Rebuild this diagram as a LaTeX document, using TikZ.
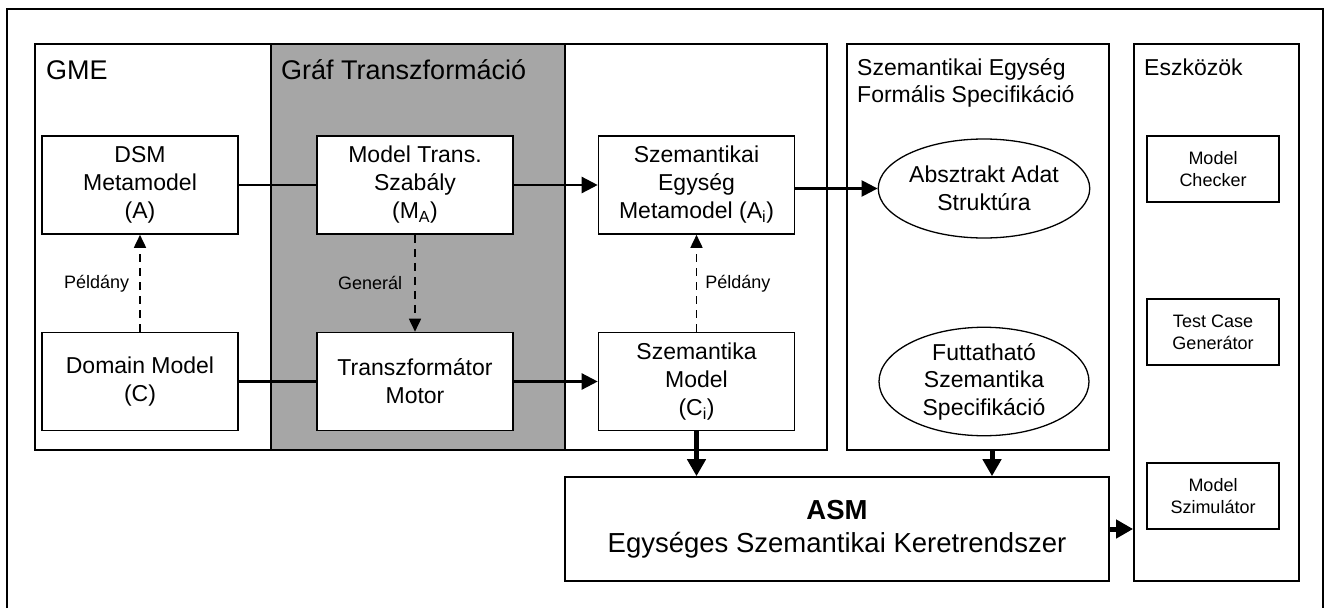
\documentclass[tikz,border=0pt]{standalone}
\usepackage{fontspec}
\setmainfont{Liberation Sans}
\usetikzlibrary{shapes.geometric,arrows.meta}
\definecolor{panelgray}{RGB}{166,166,166}
\tikzset{
  frame/.style={line width=1.5pt},
  panel/.style={draw, line width=1.8pt, rectangle, inner sep=0pt},
  box/.style={draw, line width=1.6pt, fill=white, rectangle, inner sep=0pt, align=center,
    font=\fontsize{23}{28}\selectfont, minimum width=196pt, minimum height=98pt},
  tool/.style={draw, line width=1.6pt, fill=white, rectangle, inner sep=0pt, align=center,
    font=\fontsize{18}{22}\selectfont, minimum width=132pt, minimum height=66pt},
  oval/.style={draw, line width=1.3pt, ellipse, inner sep=0pt, align=center,
    font=\fontsize{23}{27.5}\selectfont, minimum width=210pt, minimum height=99pt},
  bigtitle/.style={anchor=base west, inner sep=0pt, font=\fontsize{27}{32}\selectfont},
  subtitle/.style={anchor=base west, inner sep=0pt, font=\fontsize{23}{27}\selectfont},
  lbl/.style={inner sep=0pt, font=\fontsize{18}{22}\selectfont},
  conn/.style={line width=2.4pt},
  arr/.style={line width=2.4pt, -{Triangle[length=16pt,width=16pt]}},
  dasharr/.style={line width=1.7pt, dash pattern=on 8pt off 6pt, -{Triangle[length=13pt,width=12pt]}},
  thickarr/.style={line width=5pt, -{Triangle[length=17pt,width=18pt]}}
}
\begin{document}
\begin{tikzpicture}[x=1pt,y=-1pt]
\useasboundingbox (0,0) rectangle (1333,608);
% outer frame
\draw[frame] (7,608) -- (7,9) -- (1323,9) -- (1323,608);

% panels
\node[panel, minimum width=236pt, minimum height=406pt] (gme) at (153,247) {};
\node[panel, fill=panelgray, minimum width=294pt, minimum height=406pt] (graf) at (418,247) {};
\node[panel, minimum width=262pt, minimum height=406pt] (sem) at (696,247) {};
\node[panel, minimum width=262pt, minimum height=406pt] (spec) at (978,247) {};
\node[panel, minimum width=165pt, minimum height=537pt] (tools) at (1216.5,312.5) {};

% panel titles
\node[bigtitle] (tgme) at (46,79) {GME};
\node[bigtitle] (tgraf) at (281,79) {Gráf Transzformáció};
\node[subtitle] (tspec1) at (857,75) {Szemantikai Egység};
\node[subtitle] (tspec2) at (857,102) {Formális Specifikáció};
\node[subtitle] (ttools) at (1144,75) {Eszközök};

% boxes
\node[box] (dsm) at (140,185) {DSM\\Metamodel\\(A)};
\node[box] (dom) at (140,381.5) {Domain Model\\(C)};
\node[box] (mt) at (415,185) {Model Trans.\\Szabály\\(M\textsubscript{A})};
\node[box] (tm) at (415,381.5) {Transzformátor\\Motor};
\node[box] (sem1) at (696.5,185) {Szemantikai\\Egység\\Metamodel (A\textsubscript{i})};
\node[box] (sm) at (696.5,381.5) {Szemantika\\Model\\(C\textsubscript{i})};

% ellipses
\node[oval] (ads) at (984,188.5) {Absztrakt Adat\\Struktúra};
\node[oval] (fss) at (984,381.5) {Futtatható\\Szemantika\\Specifikáció};

% tools
\node[tool] (mc) at (1213,169) {Model\\Checker};
\node[tool] (tcg) at (1213,332) {Test Case\\Generátor};
\node[tool] (ms) at (1213,496) {Model\\Szimulátor};

% ASM
\node[draw, line width=1.6pt, rectangle, inner sep=0pt, align=center,
  font=\fontsize{27.5}{33}\selectfont, minimum width=544pt, minimum height=104pt]
  (asm) at (837,529) {\textbf{ASM}\\Egységes Szemantikai Keretrendszer};

% connectors
\draw[conn] (dsm.east) -- (mt.west);
\draw[arr] (mt.east) -- (sem1.west);
\draw[arr] (sem1.east |- ads.west) -- (ads.west);
\draw[conn] (dom.east) -- (tm.west);
\draw[arr] (tm.east) -- (sm.west);

\draw[dasharr] (dom.north) -- node[lbl, left=10pt] (l1) {Példány} (dsm.south);
\draw[dasharr] (mt.south) -- node[lbl, left=12pt] (l2) {Generál} (tm.north);
\draw[dasharr] (sm.north) -- node[lbl, right=8pt] (l3) {Példány} (sem1.south);

\draw[thickarr] (sm.south) -- (sm.south |- asm.north);
\coordinate (specout) at (992,450);
\draw[thickarr] (specout) -- (specout |- asm.north);
\draw[thickarr] (asm.east) -- (asm.east -| tools.west);
\end{tikzpicture}
\end{document}
